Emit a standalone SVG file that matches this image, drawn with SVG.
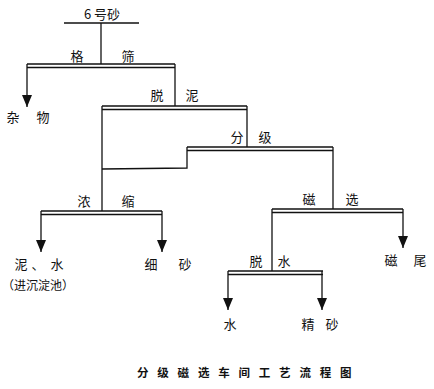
<svg xmlns="http://www.w3.org/2000/svg" width="434" height="389" viewBox="0 0 434 389">
<style>
.l{stroke:#111;stroke-width:1.3;fill:none}
.t{font-family:"Noto Sans CJK SC","Noto Sans",sans-serif;font-size:13px;fill:#111;text-anchor:middle}
.ti{font-family:"Noto Sans CJK SC","Noto Sans",sans-serif;font-size:11.5px;font-weight:bold;fill:#111}
</style>
<defs>
<marker id="ah" viewBox="0 0 12 10" refX="12" refY="5" markerWidth="12" markerHeight="10" markerUnits="userSpaceOnUse" orient="auto">
<path d="M0,0 L12,5 L0,10 Z" fill="#111"/>
</marker>
</defs>
<rect width="434" height="389" fill="#fff"/>
<g id="connectors">
<line class="l" x1="64" y1="23" x2="139" y2="23"/>
<line class="l" x1="101" y1="23" x2="101" y2="64"/>
<line class="l" x1="27" y1="64" x2="175" y2="64"/>
<line class="l" x1="27" y1="67.5" x2="175" y2="67.5"/>
<line class="l" x1="27" y1="64" x2="27" y2="107" marker-end="url(#ah)"/>
<line class="l" x1="175" y1="64" x2="175" y2="106"/>
<line class="l" x1="102" y1="106" x2="247" y2="106"/>
<line class="l" x1="102" y1="109.5" x2="247" y2="109.5"/>
<line class="l" x1="247" y1="106" x2="247" y2="147"/>
<line class="l" x1="102" y1="106" x2="102" y2="211"/>
<polyline class="l" points="102,169 187,168 187,147"/>
<line class="l" x1="187" y1="147" x2="333" y2="147"/>
<line class="l" x1="187" y1="150.5" x2="333" y2="150.5"/>
<line class="l" x1="333" y1="147" x2="333" y2="209"/>
<line class="l" x1="41" y1="211" x2="162" y2="211"/>
<line class="l" x1="41" y1="214.5" x2="162" y2="214.5"/>
<line class="l" x1="41" y1="211" x2="41" y2="252" marker-end="url(#ah)"/>
<line class="l" x1="162" y1="211" x2="162" y2="252" marker-end="url(#ah)"/>
<line class="l" x1="272" y1="209" x2="403" y2="209"/>
<line class="l" x1="272" y1="212.5" x2="403" y2="212.5"/>
<line class="l" x1="403" y1="209" x2="403" y2="248" marker-end="url(#ah)"/>
<line class="l" x1="272" y1="209" x2="272" y2="271"/>
<line class="l" x1="228" y1="271" x2="323" y2="271"/>
<line class="l" x1="228" y1="274.5" x2="323" y2="274.5"/>
<line class="l" x1="228" y1="271" x2="228" y2="310" marker-end="url(#ah)"/>
<line class="l" x1="322" y1="271" x2="322" y2="310" marker-end="url(#ah)"/>
</g>
<g id="feed"><text class="t" x="102" y="19">6 号砂</text></g>
<g id="screening"><text class="t" x="77" y="61">格</text><text class="t" x="128" y="61">筛</text></g>
<g id="debris"><text class="t" x="13" y="122">杂</text><text class="t" x="43" y="122">物</text></g>
<g id="desliming"><text class="t" x="157" y="100">脱</text><text class="t" x="192" y="100">泥</text></g>
<g id="grading"><text class="t" x="237" y="142">分</text><text class="t" x="265" y="142">级</text></g>
<g id="magnetic"><text class="t" x="309" y="204">磁</text><text class="t" x="352" y="204">选</text></g>
<g id="thickening"><text class="t" x="84" y="206">浓</text><text class="t" x="128" y="206">缩</text></g>
<g id="slime"><text class="t" x="21" y="269">泥</text><text class="t" x="38" y="269">、</text><text class="t" x="57" y="269">水</text><text class="t" x="38" y="290" style="font-size:12px">（进沉淀池）</text></g>
<g id="finesand"><text class="t" x="151" y="269">细</text><text class="t" x="185" y="269">砂</text></g>
<g id="tailings"><text class="t" x="391" y="265">磁</text><text class="t" x="420" y="265">尾</text></g>
<g id="dewatering"><text class="t" x="256" y="266">脱</text><text class="t" x="284" y="266">水</text></g>
<g id="water"><text class="t" x="230" y="329">水</text></g>
<g id="concentrate"><text class="t" x="308" y="329">精</text><text class="t" x="332" y="329">砂</text></g>
<g id="title"><text class="ti" x="137" y="377" letter-spacing="8.8">分级磁选车间工艺流程图</text></g>
</svg>
